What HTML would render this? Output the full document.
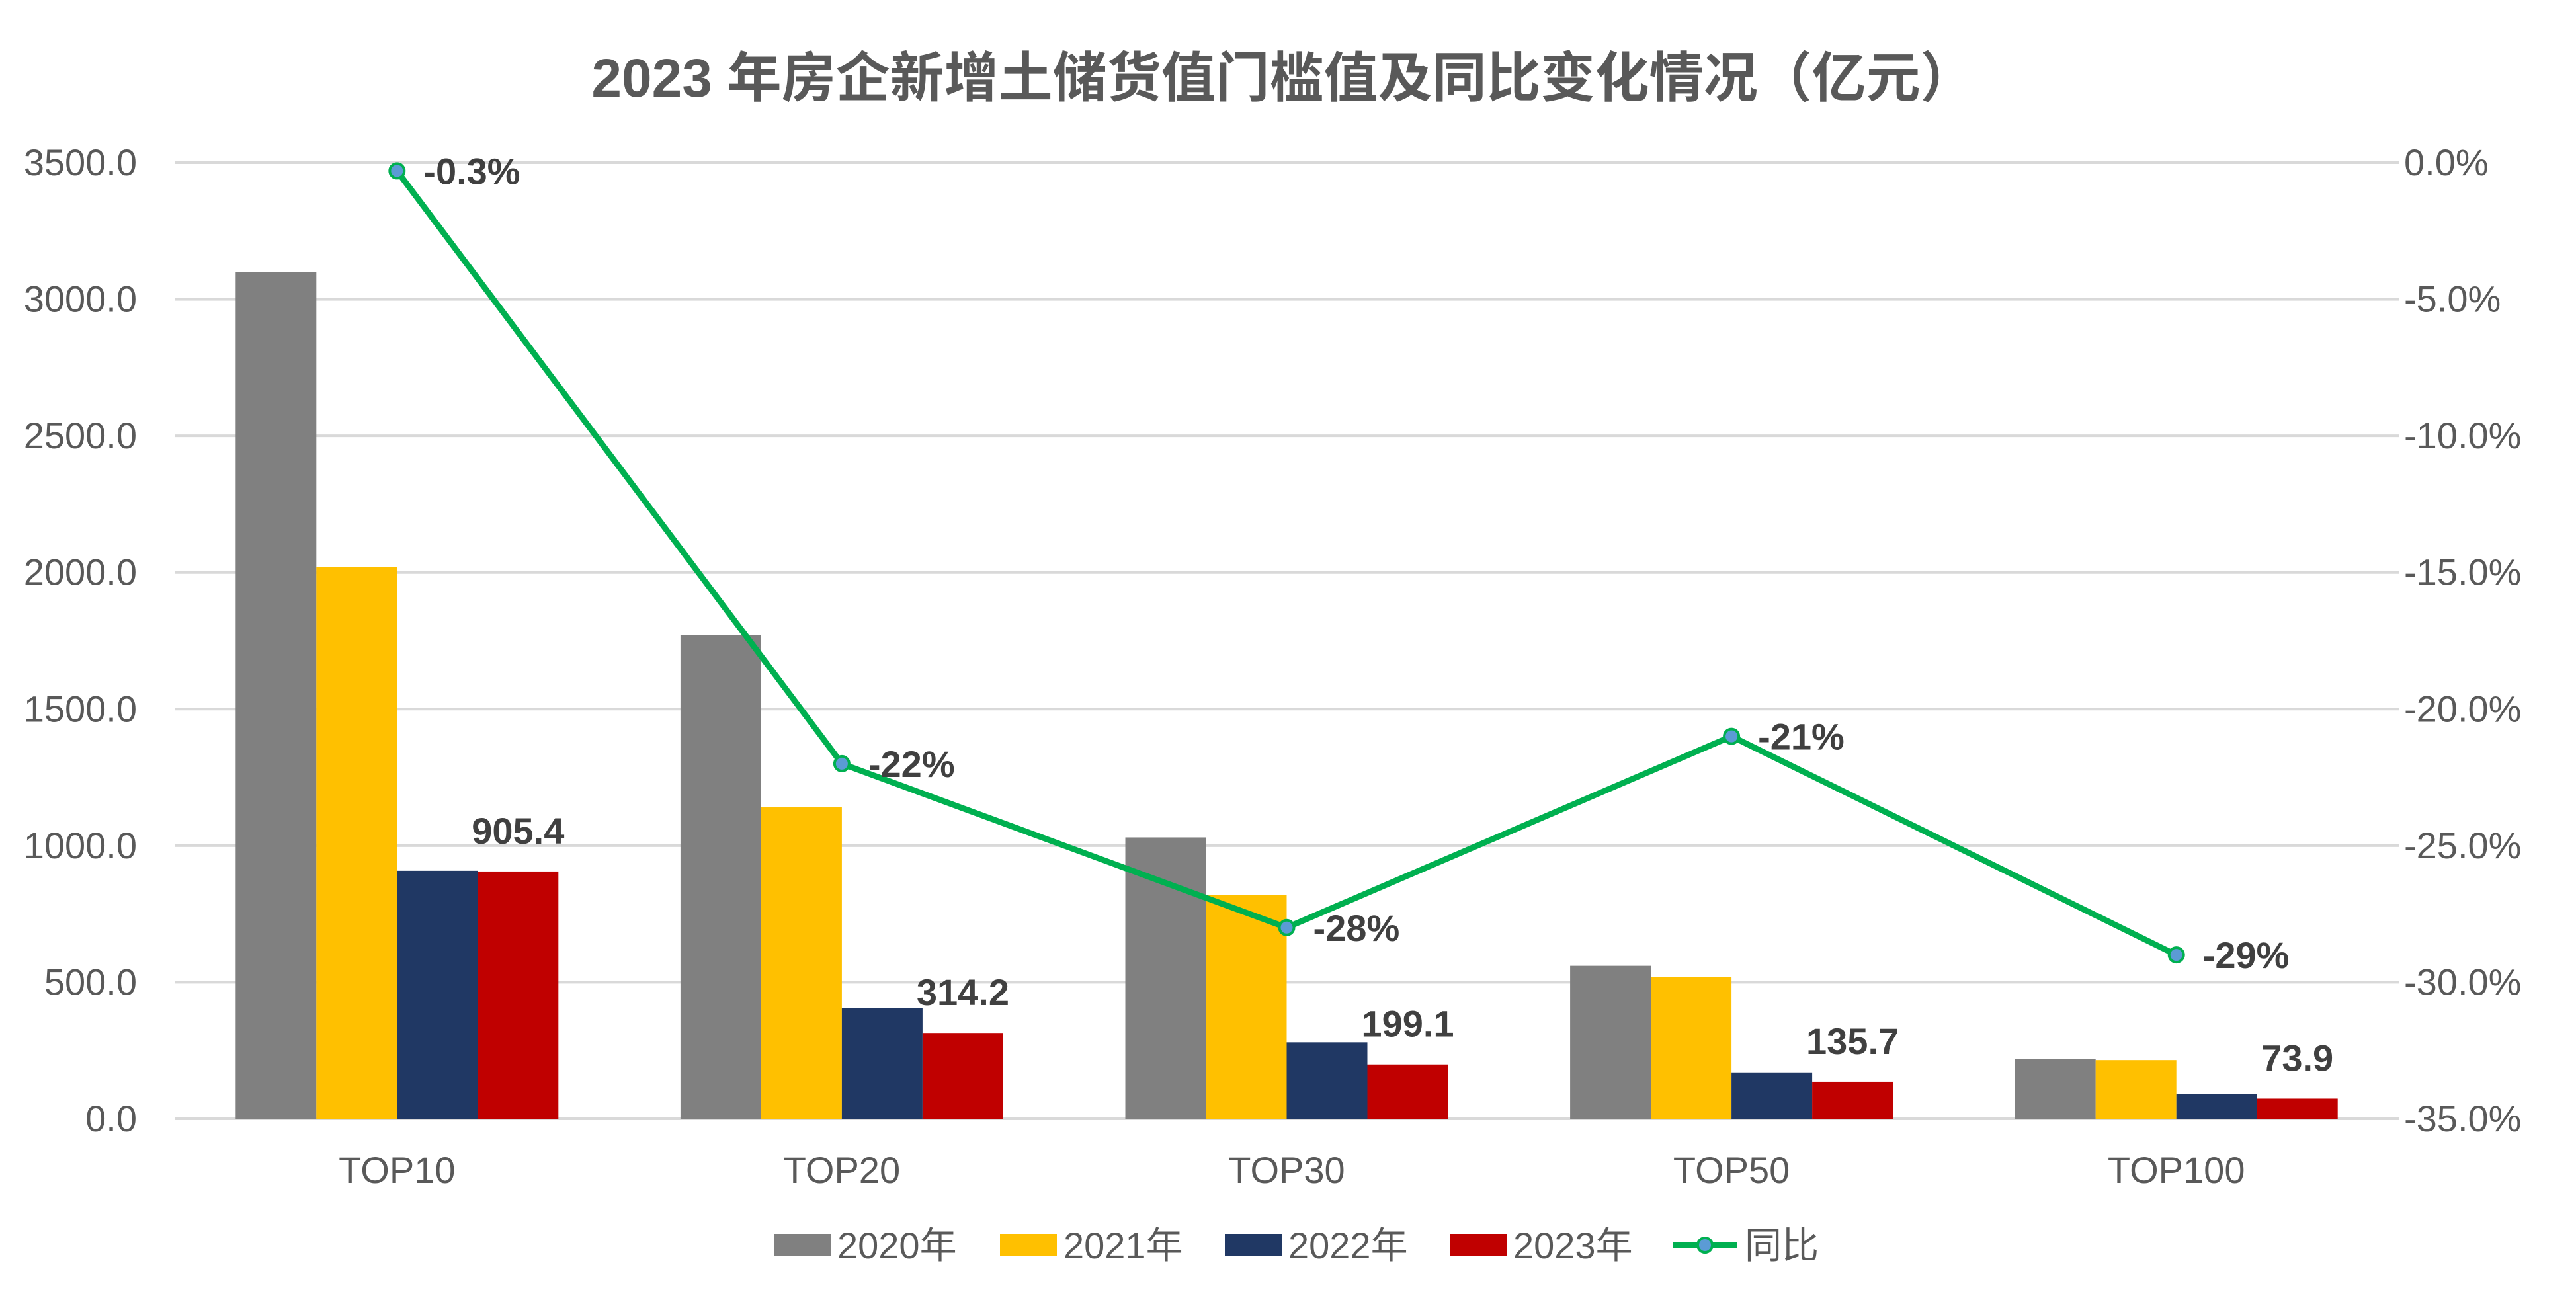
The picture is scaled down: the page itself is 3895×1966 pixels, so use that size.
<!DOCTYPE html>
<html><head><meta charset="utf-8"><style>
html,body{margin:0;padding:0;background:#fff;}
svg{display:block;font-family:"Liberation Sans","Noto Sans CJK SC",sans-serif;}
</style></head><body>
<svg id="chart" width="3895" height="1966" viewBox="0 0 3895 1966">
<text x="1940" y="146" text-anchor="middle" font-size="82" font-weight="bold" fill="#595959">2023 年房企新增土储货值门槛值及同比变化情况（亿元）</text>
<g id="grid"></g><g id="bars"></g><g id="line"></g><g id="labels"></g>
<g id="legend"></g>
</svg>
<script>
const categories = ['TOP10','TOP20','TOP30','TOP50','TOP100'];
const s2020 = [3100, 1770, 1030, 560, 220];
const s2021 = [2020, 1140, 820, 520, 215];
const s2022 = [908, 405, 280, 170, 90];
const s2023 = [905.4, 314.2, 199.1, 135.7, 73.9];
const yoy = [-0.3, -22, -28, -21, -29];
const yoyLabels = ['-0.3%','-22%','-28%','-21%','-29%'];
const leftTicks = [0,500,1000,1500,2000,2500,3000,3500];
const rightTicks = [0,-5,-10,-15,-20,-25,-30,-35];
const seriesNames = ['2020年','2021年','2022年','2023年'];

const NS='http://www.w3.org/2000/svg';
const X0=264, X1=3627, YB=1692, YT=246;
const colors=['#808080','#FFC000','#203864','#C00000'];
const series=[s2020,s2021,s2022,s2023];
const bw=(X1-X0)/categories.length;
const barW=122;
function yL(v){return YB-(v/3500)*(YB-YT);}
function yR(v){return YT+(-v/35)*(YB-YT);}
function xC(i){return X0+bw*(i+0.5);}
function mk(tag,attrs,parent){const e=document.createElementNS(NS,tag);for(const k in attrs)e.setAttribute(k,attrs[k]);parent.appendChild(e);return e;}
const g=document.getElementById('grid'), b=document.getElementById('bars'), l=document.getElementById('line'), lb=document.getElementById('labels'), lg=document.getElementById('legend');
leftTicks.forEach((t,i)=>{
  const ln=mk('line',{x1:X0,x2:X1,y1:yL(t),y2:yL(t),stroke:'#D9D9D9','stroke-width':4},g);
  
  
  const tx=mk('text',{x:207,y:yL(t)+19,'text-anchor':'end','font-size':56,fill:'#595959'},g);
  tx.textContent=t.toFixed(1);
  
  
});
rightTicks.forEach(t=>{
  const tx=mk('text',{x:3635,y:yR(t)+19,'font-size':56,fill:'#595959'},g);
  tx.textContent=t.toFixed(1)+'%';
  
  
});
categories.forEach((c,i)=>{
  const tx=mk('text',{x:xC(i),y:1789,'text-anchor':'middle','font-size':56,fill:'#595959'},g);
  tx.textContent=c;
  
  
  series.forEach((s,j)=>{
    const x=xC(i)-2*barW+j*barW;
    const r=mk('rect',{x:x,y:yL(s[i]),width:barW,height:YB-yL(s[i]),fill:colors[j]},b);
    
    
  });
  const v=mk('text',{x:xC(i)+1.5*barW,y:yL(s2023[i])-42,'text-anchor':'middle','font-size':56,'font-weight':'bold',fill:'#404040'},lb);
  v.textContent=s2023[i].toFixed(1);
  
  
});
const pts=yoy.map((v,i)=>xC(i)+','+yR(v)).join(' ');
const pl=mk('polyline',{points:pts,fill:'none',stroke:'#00B050','stroke-width':9,'stroke-linejoin':'round'},l);


yoy.forEach((v,i)=>{
  const c=mk('circle',{cx:xC(i),cy:yR(v),r:11,fill:'#5B9BD5',stroke:'#00B050','stroke-width':4},l);
  
  
  const t=mk('text',{x:xC(i)+40,y:yR(v)+20,'font-size':56,'font-weight':'bold',fill:'#404040'},lb);
  t.textContent=yoyLabels[i];
  
  
});
const legX=[1170,1512,1852,2192];
seriesNames.forEach((n,j)=>{
  const r=mk('rect',{x:legX[j],y:1866,width:86,height:34,fill:colors[j]},lg);
  
  
  const t=mk('text',{x:legX[j]+96,y:1903,'font-size':56,fill:'#595959'},lg);
  t.textContent=n;
  
  
});
const ll=mk('line',{x1:2529,x2:2627,y1:1883,y2:1883,stroke:'#00B050','stroke-width':9},lg);


const lc=mk('circle',{cx:2578,cy:1883,r:11,fill:'#5B9BD5',stroke:'#00B050','stroke-width':4},lg);


const lt=mk('text',{x:2638,y:1903,'font-size':56,fill:'#595959'},lg);
lt.textContent='同比';


</script>
</body></html>
